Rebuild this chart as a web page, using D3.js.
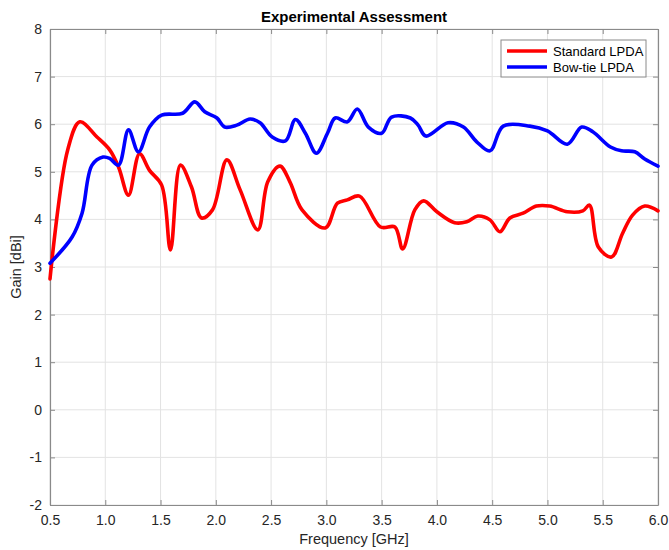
<!DOCTYPE html>
<html>
<head>
<meta charset="utf-8">
<script src="https://cdn.jsdelivr.net/npm/d3@7"></script>
<style>
body { margin: 0; background: #fff; }
text { font-family: "Liberation Sans", Arial, Helvetica, sans-serif; }
</style>
</head>
<body>
<svg id="draw" width="669" height="550"></svg>
<script>
// data
var standardX = [0.5, 0.66, 0.77, 0.925, 1.04, 1.12, 1.21, 1.31, 1.40, 1.51, 1.59, 1.68, 1.78, 1.87, 1.97, 2.10, 2.22, 2.38, 2.47, 2.58, 2.67, 2.78, 2.99, 3.10, 3.19, 3.30, 3.49, 3.62, 3.69, 3.80, 3.88, 4.0, 4.16, 4.27, 4.37, 4.48, 4.57, 4.66, 4.78, 4.90, 5.02, 5.18, 5.32, 5.38, 5.46, 5.58, 5.68, 5.77, 5.88, 6.0];
var standardY = [2.75, 5.46, 6.05, 5.73, 5.46, 5.1, 4.51, 5.38, 5.03, 4.72, 3.36, 5.14, 4.68, 4.03, 4.2, 5.25, 4.62, 3.78, 4.79, 5.12, 4.79, 4.2, 3.82, 4.34, 4.41, 4.49, 3.84, 3.84, 3.38, 4.2, 4.39, 4.16, 3.93, 3.95, 4.07, 3.99, 3.74, 4.03, 4.13, 4.28, 4.28, 4.16, 4.18, 4.3, 3.42, 3.21, 3.71, 4.09, 4.28, 4.18];
var bowtieX = [0.5, 0.70, 0.79, 0.88, 0.98, 1.04, 1.12, 1.21, 1.30, 1.40, 1.51, 1.70, 1.81, 1.90, 2.01, 2.08, 2.19, 2.31, 2.40, 2.51, 2.63, 2.72, 2.81, 2.91, 3.01, 3.08, 3.19, 3.28, 3.38, 3.50, 3.59, 3.76, 3.83, 3.90, 4.10, 4.24, 4.36, 4.48, 4.60, 4.84, 5.0, 5.18, 5.31, 5.41, 5.57, 5.67, 5.79, 5.88, 6.0];
var bowtieY = [3.08, 3.63, 4.13, 5.14, 5.31, 5.28, 5.14, 5.88, 5.42, 5.94, 6.19, 6.23, 6.47, 6.26, 6.13, 5.94, 5.98, 6.11, 6.03, 5.73, 5.65, 6.1, 5.81, 5.39, 5.81, 6.13, 6.05, 6.32, 5.94, 5.81, 6.15, 6.13, 5.98, 5.75, 6.03, 5.94, 5.63, 5.44, 5.96, 5.96, 5.86, 5.58, 5.94, 5.84, 5.52, 5.44, 5.42, 5.27, 5.12];
var seriesNames = ["Standard LPDA", "Bow-tie LPDA"];
var seriesColors = ["#ff0000", "#0000ff"];
var xTicks = [0.5, 1.0, 1.5, 2.0, 2.5, 3.0, 3.5, 4.0, 4.5, 5.0, 5.5, 6.0];
var yTicks = [-2, -1, 0, 1, 2, 3, 4, 5, 6, 7, 8];

// ---------------------------------------------------------------------------

var mLeft = 50, mRight = 658, mTop = 29, mBottom = 505;
var svg = d3.select("#draw");

var xScale = d3.scaleLinear().domain([0.5, 6.0]).range([mLeft, mRight]);
var yScale = d3.scaleLinear().domain([-2, 8]).range([mBottom, mTop]);

// grid
svg.append("g").selectAll("line").data(xTicks).enter().append("line")
    .attr("x1", d => xScale(d)).attr("x2", d => xScale(d))
    .attr("y1", mTop).attr("y2", mBottom)
    .attr("stroke", "#e3e3e3").attr("stroke-width", 1);
svg.append("g").selectAll("line").data(yTicks).enter().append("line")
    .attr("x1", mLeft).attr("x2", mRight)
    .attr("y1", d => yScale(d)).attr("y2", d => yScale(d))
    .attr("stroke", "#e3e3e3").attr("stroke-width", 1);

// axes, matlab style ticks pointing inwards
var xAxis = d3.axisBottom(xScale).tickValues(xTicks).tickFormat(d => d.toFixed(1)).tickSizeInner(-5).tickSizeOuter(0).tickPadding(10);
var yAxis = d3.axisLeft(yScale).tickValues(yTicks).tickFormat(d => String(d)).tickSizeInner(-5).tickSizeOuter(0).tickPadding(8);
var xTop = d3.axisTop(xScale).tickValues(xTicks).tickFormat("").tickSizeInner(-5).tickSizeOuter(0);
var yRight = d3.axisRight(yScale).tickValues(yTicks).tickFormat("").tickSizeInner(-5).tickSizeOuter(0);

function styleAxis(g) {
    g.selectAll("path").attr("stroke", "#8a8a8a").attr("stroke-width", 1.2);
    g.selectAll("line").attr("stroke", "#8a8a8a");
    g.selectAll("text").attr("fill", "#262626").style("font-size", "14px")
        .style("font-family", '"Liberation Sans", Arial, sans-serif');
}
svg.append("g").attr("transform", "translate(0," + mBottom + ")").call(xAxis).call(styleAxis);
svg.append("g").attr("transform", "translate(" + mLeft + ",0)").call(yAxis).call(styleAxis);
svg.append("g").attr("transform", "translate(0," + mTop + ")").call(xTop).call(styleAxis);
svg.append("g").attr("transform", "translate(" + mRight + ",0)").call(yRight).call(styleAxis);

// lines
var line = d3.line()
    .x(d => xScale(d[0]))
    .y(d => yScale(d[1]))
    .curve(d3.curveCatmullRom.alpha(0.5));

var series = [d3.zip(standardX, standardY), d3.zip(bowtieX, bowtieY)];
svg.append("g").selectAll("path").data(series).enter().append("path")
    .attr("d", line)
    .attr("fill", "none")
    .attr("stroke", (d, i) => seriesColors[i])
    .attr("stroke-width", 3.6)
    .attr("stroke-linejoin", "round")
    .attr("stroke-linecap", "round");

// title & labels
svg.append("text").attr("x", 354).attr("y", 22).attr("text-anchor", "middle")
    .style("font-size", "15px").style("font-weight", "bold").attr("fill", "#000")
    .text("Experimental Assessment");
svg.append("text").attr("x", 354).attr("y", 544).attr("text-anchor", "middle")
    .style("font-size", "14.5px").attr("fill", "#262626")
    .text("Frequency [GHz]");
svg.append("text").attr("transform", "translate(21," + ((mTop + mBottom) / 2) + ") rotate(-90)")
    .attr("text-anchor", "middle")
    .style("font-size", "14.5px").attr("fill", "#262626")
    .text("Gain [dBi]");

// legend
var lg = svg.append("g").attr("transform", "translate(501,40)");
lg.append("rect").attr("width", 145).attr("height", 37)
    .attr("fill", "#fff").attr("stroke", "#8a8a8a").attr("stroke-width", 1);
var items = lg.selectAll("g.item").data(seriesNames).enter().append("g")
    .attr("class", "item")
    .attr("transform", (d, i) => "translate(0," + (11 + i * 16) + ")");
items.append("line").attr("x1", 6).attr("x2", 46).attr("y1", 0).attr("y2", 0)
    .attr("stroke", (d, i) => seriesColors[i]).attr("stroke-width", 3.6);
items.append("text").attr("x", 52).attr("y", 4.5)
    .style("font-size", "13px").attr("fill", "#000")
    .text(d => d);
</script>
</body>
</html>
